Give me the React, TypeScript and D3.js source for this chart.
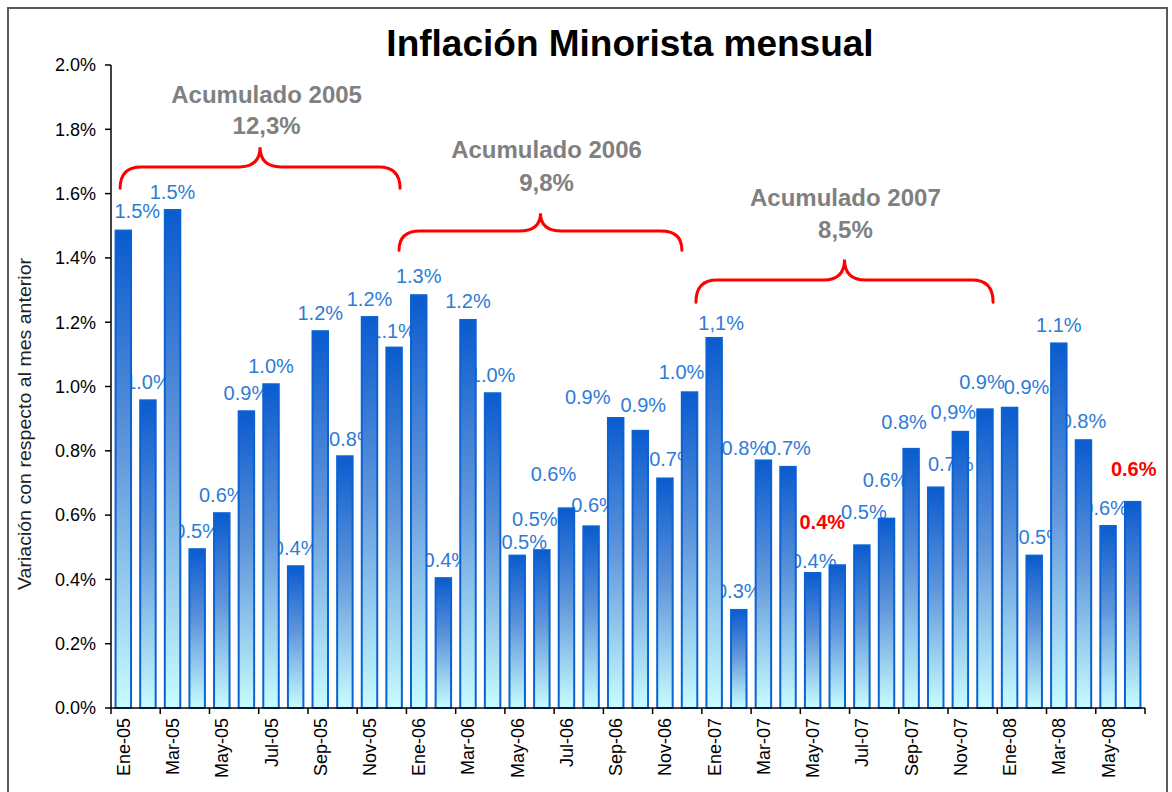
import * as d3 from 'd3';

// meses (Ene-05 .. Jun-08)
const months = ['Ene', 'Feb', 'Mar', 'Abr', 'May', 'Jun', 'Jul', 'Ago', 'Sep', 'Oct', 'Nov', 'Dic'];
const categories = [
  ...months.map((m) => `${m}-05`),
  ...months.map((m) => `${m}-06`),
  ...months.map((m) => `${m}-07`),
  ...months.slice(0, 6).map((m) => `${m}-08`),
];

// variación mensual (%)
const values = [
  1.485, 0.957, 1.549, 0.494, 0.606, 0.923, 1.007, 0.441, 1.172, 0.783, 1.216, 1.121,
  1.284, 0.404, 1.207, 0.979, 0.474, 0.491, 0.621, 0.565, 0.902, 0.862, 0.714, 0.982,
  1.151, 0.305, 0.770, 0.750, 0.420, 0.444, 0.506, 0.589, 0.806, 0.686, 0.859, 0.929,
  0.934, 0.474, 1.134, 0.833, 0.566, 0.641,
];

// etiquetas tal como aparecen
const labels = [
  '1.5%', '1.0%', '1.5%', '0.5%', '0.6%', '0.9%', '1.0%', '0.4%', '1.2%', '0.8%', '1.2%', '1.1%',
  '1.3%', '0.4%', '1.2%', '1.0%', '0.5%', '0.5%', '0.6%', '0.6%', '0.9%', '0.9%', '0.7%', '1.0%',
  '1,1%', '0.3%', '0.8%', '0.7%', '0.4%', '0.4%', '0.5%', '0.6%', '0.8%', '0.7%', '0,9%', '0.9%',
  '0.9%', '0.5%', '1.1%', '0.8%', '0.6%', '0.6%',
];
const highlighted = ['Jun-07', 'Jun-08'];

const yTicks = [0, 0.2, 0.4, 0.6, 0.8, 1.0, 1.2, 1.4, 1.6, 1.8, 2.0];
const xTickLabels = categories.filter((_, i) => i % 2 === 0);

// acumulado anual: llave desde/hasta (índice de mes), alturas en %
const acumYears = ['Acumulado 2005', 'Acumulado 2006', 'Acumulado 2007'];
const acumTotals = ['12,3%', '9,8%', '8,5%'];
const acumFrom = [0.37, 11.7, 23.76];
const acumTo = [11.74, 23.19, 35.83];
const acumBase = [1.617, 1.424, 1.262];
const acumTip = [1.744, 1.539, 1.395];
const acumTextX = [6.32, 17.69, 29.83];
const acumNameY = [1.881, 1.71, 1.561];
const acumTotalY = [1.784, 1.607, 1.461];

// desplazamiento manual de cada etiqueta (px) [dx, dy desde el tope de la barra]
const labelNudge: [number, number][] = [
  [14, -13], [0, -11], [0, -11], [0, -11], [0, -11], [0, -11], [0, -11], [0, -11], [0, -11], [7, -10], [0, -11], [-1, -10],
  [0, -12], [3, -11], [0, -12], [0, -11], [7, -7], [-7, -24], [-13, -27], [3, -14], [-28, -14], [3, -19], [7, -12], [-8, -13],
  [7, -8], [0, -12], [-19, -5], [0, -12], [1, -5], [-15, -36], [2, -26], [-1, -32], [-7, -20], [15, -16], [-7, -13], [-3, -20],
  [17, -14], [7, -12], [0, -11], [0, -12], [-3, -11], [1, -26],
];

const W = 1172;
const H = 792;
const left = 111;
const right = 1145;
const top = 65;
const bottom = 708;
const font = '"Liberation Sans", Arial, Helvetica, sans-serif';

function bracePath(x0: number, x1: number, yb: number, yt: number) {
  const xm = (x0 + x1) / 2;
  const yh = yb - (yb - yt) * 0.52;
  const r = 21;
  const p = d3.path();
  p.moveTo(x0, yb);
  p.quadraticCurveTo(x0, yh, x0 + r, yh);
  p.lineTo(xm - r, yh);
  p.quadraticCurveTo(xm, yh, xm, yt);
  p.quadraticCurveTo(xm, yh, xm + r, yh);
  p.lineTo(x1 - r, yh);
  p.quadraticCurveTo(x1, yh, x1, yb);
  return p.toString();
}

export default function App() {
  const x = d3.scaleBand<string>().domain(categories).range([left, right]).paddingInner(0.29).paddingOuter(0.145);
  const xi = d3.scaleLinear().domain([0, categories.length]).range([left, right]);
  const y = d3.scaleLinear().domain([0, 2]).range([bottom, top]);
  const bw = x.bandwidth();

  return (
    <div style={{ position: 'absolute', left: 0, top: 0 }}>
      <svg width={W} height={H} style={{ display: 'block', fontFamily: font }}>
        <defs>
          <linearGradient id="barGrad" x1="0" y1="0" x2="0" y2="1">
            <stop offset="0%" stopColor="#0a5bcf" />
            <stop offset="45%" stopColor="#5e94da" />
            <stop offset="100%" stopColor="#c8fcff" />
          </linearGradient>
        </defs>
        <rect x={0} y={0} width={W} height={H} fill="#fff" />
        <rect x={8} y={8} width={1159} height={800} fill="none" stroke="#5a5a5a" strokeWidth={2} />

        <text x={630} y={56} textAnchor="middle" fontSize={37} fontWeight="bold" fill="#000">
          Inflación Minorista mensual
        </text>

        {/* etiquetas de valor (detrás de las barras) */}
        {values.map((v, i) => {
          if (highlighted.includes(categories[i])) return null;
          const [dx, dy] = labelNudge[i];
          return (
            <text
              key={'l' + i}
              x={(x(categories[i]) as number) + bw / 2 + dx}
              y={y(v) + dy}
              textAnchor="middle"
              fontSize={20}
              fill="#2e7bd6"
            >
              {labels[i]}
            </text>
          );
        })}

        {/* barras */}
        {values.map((v, i) => (
          <rect
            key={'b' + i}
            x={(x(categories[i]) as number) + 1}
            y={y(v)}
            width={bw - 2}
            height={y(0) - y(v)}
            fill="url(#barGrad)"
            stroke="#0b63d2"
            strokeWidth={2}
          />
        ))}

        {values.map((v, i) => {
          if (!highlighted.includes(categories[i])) return null;
          const [dx, dy] = labelNudge[i];
          return (
            <text
              key={'h' + i}
              x={(x(categories[i]) as number) + bw / 2 + dx}
              y={y(v) + dy}
              textAnchor="middle"
              fontSize={20}
              fontWeight="bold"
              fill="#ff0000"
            >
              {labels[i]}
            </text>
          );
        })}

        {/* eje Y */}
        <line x1={left} x2={left} y1={top} y2={bottom} stroke="#000" strokeWidth={1.5} />
        {yTicks.map((t) => (
          <g key={'y' + t}>
            <line x1={left - 6} x2={left} y1={y(t)} y2={y(t)} stroke="#000" strokeWidth={1.5} />
            <text x={left - 15} y={y(t)} dy="0.35em" textAnchor="end" fontSize={18} fill="#000">
              {t.toFixed(1)}%
            </text>
          </g>
        ))}
        <text
          transform={`translate(31,424) rotate(-90)`}
          textAnchor="middle"
          fontSize={18}
          fill="#222"
          textLength={332}
          lengthAdjust="spacingAndGlyphs"
        >
          Variación con respecto al mes anterior
        </text>

        {/* eje X */}
        <line x1={left} x2={right} y1={bottom} y2={bottom} stroke="#000" strokeWidth={1.5} />
        {d3.range(0, categories.length + 1, 2).map((k) => (
          <line key={'t' + k} x1={xi(k)} x2={xi(k)} y1={bottom} y2={bottom + 6} stroke="#000" strokeWidth={1.5} />
        ))}
        {xTickLabels.map((c) => (
          <text
            key={'x' + c}
            transform={`translate(${(x(c) as number) + bw / 2},${bottom + 10}) rotate(-90)`}
            dy="0.36em"
            textAnchor="end"
            fontSize={18}
            fill="#000"
          >
            {c}
          </text>
        ))}

        {/* llaves de acumulado */}
        {acumYears.map((name, k) => (
          <g key={name}>
            <path
              d={bracePath(xi(acumFrom[k]), xi(acumTo[k]), y(acumBase[k]), y(acumTip[k]))}
              fill="none"
              stroke="#ff0000"
              strokeWidth={3}
              strokeLinecap="round"
            />
            <text x={xi(acumTextX[k])} y={y(acumNameY[k])} textAnchor="middle" fontSize={24} fontWeight="bold" fill="#808080">
              {name}
            </text>
            <text x={xi(acumTextX[k])} y={y(acumTotalY[k])} textAnchor="middle" fontSize={24} fontWeight="bold" fill="#808080">
              {acumTotals[k]}
            </text>
          </g>
        ))}
      </svg>
    </div>
  );
}
